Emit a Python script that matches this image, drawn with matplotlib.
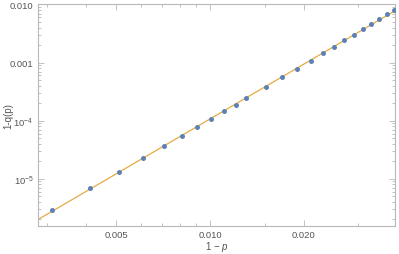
import numpy as np
import matplotlib
matplotlib.use("Agg")
import matplotlib.pyplot as plt
from matplotlib.ticker import FixedLocator, FixedFormatter, NullFormatter

# data: 1-p and 1-q(p)
one_minus_p = [0.0031, 0.0041, 0.0051, 0.0061, 0.0071, 0.0081, 0.0091, 0.0101, 0.0111, 0.0121,
               0.0131, 0.0151, 0.0171, 0.0191, 0.0211, 0.0231, 0.0251, 0.0271, 0.0291, 0.0311,
               0.0331, 0.0351, 0.0371, 0.0391]
one_minus_q = [2.94e-6, 6.95e-6, 1.31e-5, 2.28e-5, 3.62e-5, 5.45e-5, 7.79e-5, 1.07e-4,
               1.45e-4, 1.88e-4, 2.43e-4, 3.76e-4, 5.58e-4, 7.85e-4, 1.08e-3, 1.45e-3,
               1.88e-3, 2.42e-3, 3.02e-3, 3.79e-3, 4.61e-3, 5.62e-3, 6.78e-3, 7.94e-3]

x_ticks = [0.005, 0.010, 0.020]
x_tick_labels = ["0.005", "0.010", "0.020"]
y_ticks = [1e-5, 1e-4, 1e-3, 1e-2]
y_tick_labels = [r"$10^{-5}$", r"$10^{-4}$", "0.001", "0.010"]

plt.rcParams['font.family'] = ['Liberation Sans', 'DejaVu Sans']
plt.rcParams['mathtext.fontset'] = 'custom'
plt.rcParams['mathtext.rm'] = 'Liberation Sans'
plt.rcParams['mathtext.it'] = 'Liberation Sans:italic'

W, H = 399, 255
fig = plt.figure(figsize=(W / 100, H / 100), dpi=100)
L, R, T, B = 37.7, 395, 5, 226.7
ax = fig.add_axes([L / W, 1 - B / H, (R - L) / W, (B - T) / H])

x = np.array(one_minus_p)
y = np.array(one_minus_q)
coef = np.polyfit(np.log10(x), np.log10(y), 1)
xl = (0.00279, 0.0394)
xf = np.logspace(np.log10(xl[0]), np.log10(xl[1]), 50)
ax.plot(xf, 10 ** np.polyval(coef, np.log10(xf)), color='#E19C24', lw=0.9, alpha=0.85, zorder=2)
ax.plot(x, y, 'o', color='#5E81B5', ms=3.6, mec='none', zorder=3)

ax.set_xscale('log')
ax.set_yscale('log')
ax.set_xlim(*xl)
ax.set_ylim(1.56e-6, 0.0102)

ax.xaxis.set_major_locator(FixedLocator(x_ticks))
ax.xaxis.set_major_formatter(FixedFormatter(x_tick_labels))
ax.xaxis.set_minor_locator(FixedLocator([0.003, 0.004, 0.006, 0.007, 0.008, 0.009, 0.015, 0.030]))
ax.xaxis.set_minor_formatter(NullFormatter())
ax.yaxis.set_major_locator(FixedLocator(y_ticks))
ax.yaxis.set_major_formatter(FixedFormatter(y_tick_labels))
ax.yaxis.set_minor_locator(matplotlib.ticker.LogLocator(base=10, subs=np.arange(2, 10)))
ax.yaxis.set_minor_formatter(NullFormatter())

frame = '#B8B8B8'
for s in ax.spines.values():
    s.set_color(frame)
    s.set_linewidth(0.8)
ax.tick_params(which='both', direction='in', top=True, right=True, color=frame,
               labelcolor='#555555', labelsize=6.8, width=0.6, pad=3)
ax.tick_params(which='major', length=4)
ax.tick_params(which='minor', length=2)

ax.set_xlabel(r"1 − $\mathit{p}$", fontsize=7, color='#555555')
ax.set_ylabel("1-q(p)", fontsize=7, color='#555555')
ax.xaxis.set_label_coords(0.5, (B - 240) / (B - T))
ax.yaxis.set_label_coords((13 - L) / (R - L), 0.5)

fig.savefig('out.png', dpi=100)
